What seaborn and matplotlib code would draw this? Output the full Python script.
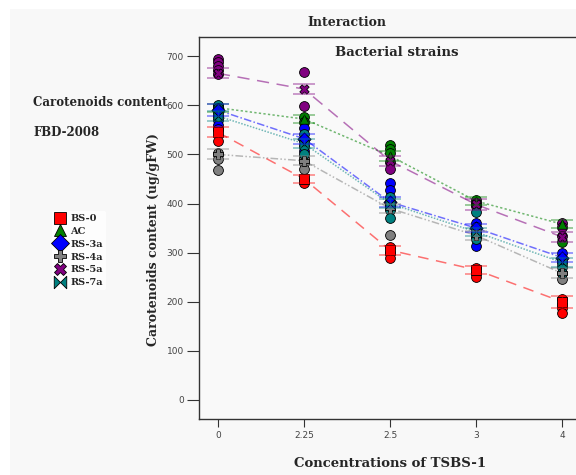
import numpy as np
import pandas as pd
import matplotlib
matplotlib.use("Agg")
import matplotlib.pyplot as plt
from matplotlib.path import Path
from matplotlib.lines import Line2D
from matplotlib.patches import Rectangle
import seaborn as sns

# ---------------- data ----------------
CONCENTRATIONS = ["0", "2.25", "2.5", "3", "4"]
STRAINS = ["BS-0", "AC", "RS-3a", "RS-4a", "RS-5a", "RS-7a"]

MEAN_BS0 = [545, 450, 305, 265, 200]
MEAN_AC = [595, 572, 497, 405, 358]
MEAN_RS3A = [590, 532, 403, 350, 290]
MEAN_RS4A = [500, 487, 390, 335, 258]
MEAN_RS5A = [665, 633, 487, 398, 332]
MEAN_RS7A = [578, 522, 400, 342, 280]

ERR_BS0 = [10, 8, 9, 8, 12]
ERR_AC = [8, 9, 10, 8, 8]
ERR_RS3A = [12, 10, 10, 9, 9]
ERR_RS4A = [10, 9, 9, 9, 10]
ERR_RS5A = [10, 11, 10, 12, 10]
ERR_RS7A = [10, 9, 9, 9, 9]

PTS_BS0 = [[552, 527], [450, 442], [312, 299, 290], [269, 259, 250], [206, 196, 187, 177]]
PTS_AC = [[598, 590], [576, 566], [519, 511, 503], [407, 400], [322]]
PTS_RS3A = [[570, 560, 552], [554, 507], [442, 428], [360, 313], [299]]
PTS_RS4A = [[503, 490, 468], [493, 483, 470], [393, 336], [340, 330], [246]]
PTS_RS5A = [[695, 688, 680, 672, 664], [668, 598], [485, 470], [401, 395], [360, 352, 334]]
PTS_RS7A = [[600, 594, 586, 578], [541, 529, 517, 501], [413, 399, 387, 371], [383, 352, 340, 328], [281, 271, 259]]

# ---------------- styling ----------------
COLORS = {"BS-0": "#ff0000", "AC": "#008000", "RS-3a": "#0000ff",
          "RS-4a": "#808080", "RS-5a": "#800080", "RS-7a": "#008080"}
LINESTYLES = {"BS-0": (0, (7, 5)), "AC": (0, (1.5, 1.5)), "RS-3a": (0, (5, 1.5, 1, 1.5)),
              "RS-4a": (0, (5, 1.5, 1, 1.5, 1, 1.5)), "RS-5a": (0, (8, 5)),
              "RS-7a": (0, (1, 1))}
bowtie = Path([(-1, -1), (0, 0), (-1, 1), (-1, -1), (1, -1), (0, 0), (1, 1), (1, -1)],
              [Path.MOVETO, Path.LINETO, Path.LINETO, Path.CLOSEPOLY,
               Path.MOVETO, Path.LINETO, Path.LINETO, Path.CLOSEPOLY])
MARKERS = {"BS-0": "s", "AC": "^", "RS-3a": "D", "RS-4a": "P", "RS-5a": "X", "RS-7a": bowtie}

means = {"BS-0": MEAN_BS0, "AC": MEAN_AC, "RS-3a": MEAN_RS3A,
         "RS-4a": MEAN_RS4A, "RS-5a": MEAN_RS5A, "RS-7a": MEAN_RS7A}
errs = {"BS-0": ERR_BS0, "AC": ERR_AC, "RS-3a": ERR_RS3A,
        "RS-4a": ERR_RS4A, "RS-5a": ERR_RS5A, "RS-7a": ERR_RS7A}
pts = {"BS-0": PTS_BS0, "AC": PTS_AC, "RS-3a": PTS_RS3A,
       "RS-4a": PTS_RS4A, "RS-5a": PTS_RS5A, "RS-7a": PTS_RS7A}

rows = []
for s in STRAINS:
    for i, vals in enumerate(pts[s]):
        for v in vals:
            rows.append({"strain": s, "x": i, "y": v})
df_pts = pd.DataFrame(rows)
mrows = []
for s in STRAINS:
    for i, v in enumerate(means[s]):
        mrows.append({"strain": s, "x": i, "y": v, "e": errs[s][i]})
df_mean = pd.DataFrame(mrows)

sns.set_theme(style="white")
SERIF = ["DejaVu Serif"]

fig = plt.figure(figsize=(5.76, 4.75), dpi=100)
fig.patch.set_facecolor("white")
fig.add_artist(Rectangle((10 / 576, 0), 1, 1 - 9 / 475, transform=fig.transFigure,
                         facecolor="#f8f8f8", edgecolor="none", zorder=-10))

ax = fig.add_axes([199 / 576, 1 - 419 / 475, 382 / 576, 382 / 475])
ax.set_facecolor("#f9f9f9")

# mean lines
for s in STRAINS:
    d = df_mean[df_mean.strain == s]
    sns.lineplot(data=d, x="x", y="y", ax=ax, color=COLORS[s], linewidth=1.1,
                 alpha=0.55, zorder=2, legend=False, linestyle=LINESTYLES[s])

# individual observations
for s in STRAINS:
    d = df_pts[df_pts.strain == s]
    sns.scatterplot(data=d, x="x", y="y", ax=ax, color=COLORS[s], s=50,
                    edgecolor="black", linewidth=0.6, zorder=3, legend=False)

# mean markers and error bars
for s in STRAINS:
    d = df_mean[df_mean.strain == s]
    ax.scatter(d["x"], d["y"], marker=MARKERS[s], s=45, color=COLORS[s],
               edgecolor="black", linewidth=0.6, zorder=4)
    ax.errorbar(d["x"], d["y"], yerr=d["e"], fmt="none", ecolor=COLORS[s],
                alpha=0.45, capsize=8, elinewidth=1.0, capthick=1.2, zorder=5)

ax.set_xlim(-0.22, 4.22)
ax.set_ylim(-38.7, 739)
ax.set_xticks(range(len(CONCENTRATIONS)))
ax.set_xticklabels(CONCENTRATIONS)
ax.set_yticks([0, 100, 200, 300, 400, 500, 600, 700])
ax.tick_params(axis="both", direction="out", length=9, width=0.8, color="#333333",
               labelsize=6.5, labelcolor="#444444", pad=2, left=True, bottom=True)
ax.tick_params(axis="x", length=6, pad=3)
for sp in ax.spines.values():
    sp.set_color("#333333")
    sp.set_linewidth(1.0)

ax.set_xlabel("Concentrations of TSBS-1", fontsize=9.5, fontweight="bold",
              family=SERIF, labelpad=12)
ax.set_ylabel("Carotenoids content (ug/gFW)", fontsize=9, fontweight="bold",
              family=SERIF)
ax.yaxis.set_label_coords(160 / 576, 1 - 240 / 475, transform=fig.transFigure)
ax.text(397 / 576, 1 - 52 / 475, "Bacterial strains", transform=fig.transFigure,
        ha="center", va="center", fontsize=9.5, fontweight="bold", family=SERIF)

fig.text(347 / 576, 1 - 22 / 475, "Interaction", ha="center", va="center",
         fontsize=9, fontweight="bold", family=SERIF)
fig.text(33 / 576, 1 - 103 / 475, "Carotenoids content", ha="left", va="center",
         fontsize=8.5, fontweight="bold", family=SERIF)
fig.text(33 / 576, 1 - 133 / 475, "FBD-2008", ha="left", va="center",
         fontsize=8.5, fontweight="bold", family=SERIF)

handles = [Line2D([], [], linestyle="none", marker=MARKERS[s], markersize=9,
                  markerfacecolor=COLORS[s], markeredgecolor="black",
                  markeredgewidth=0.6, label=s) for s in STRAINS]
leg = fig.legend(handles=handles, loc="upper left",
                 bbox_to_anchor=(52 / 576, 1 - 211 / 475), frameon=True,
                 prop={"family": SERIF, "weight": "bold", "size": 7},
                 handlelength=1.0, handletextpad=0.6, labelspacing=0.4,
                 borderpad=0.3, borderaxespad=0)
leg.get_frame().set_facecolor("white")
leg.get_frame().set_edgecolor("none")

fig.savefig("out.png", dpi=100)
